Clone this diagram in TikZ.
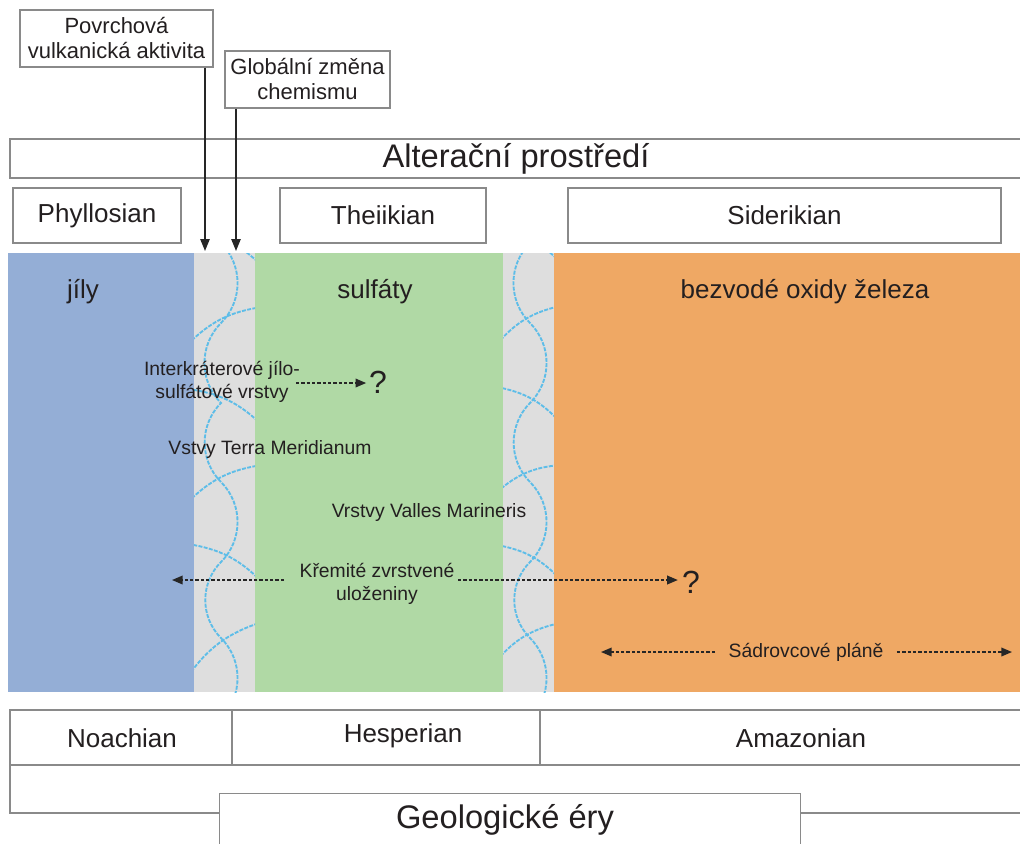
\documentclass[tikz,border=0pt]{standalone}
\usepackage{fontspec}
\setmainfont{Liberation Sans}
\usetikzlibrary{arrows.meta}
\definecolor{cblue}{HTML}{94AED6}
\definecolor{cgray}{HTML}{DEDEDE}
\definecolor{cgreen}{HTML}{B0D9A5}
\definecolor{corange}{HTML}{EFA864}
\definecolor{wblue}{HTML}{5DBDE8}
\definecolor{boxgray}{HTML}{8A8A8A}
\definecolor{txt}{HTML}{231F20}
\newcommand{\fsz}[2]{\fontsize{#1}{#2}\selectfont}
\tikzset{
  box/.style={draw=boxgray, line width=0.9pt, fill=white, inner sep=0pt, align=center, text=txt},
  lbl/.style={inner sep=0pt, text=txt, align=center},
  small/.style={font=\fsz{14.5}{17.25}},
  mid/.style={font=\fsz{19.5}{22}},
  big/.style={font=\fsz{24.5}{28}},
  varrow/.style={-{Triangle[length=9pt,width=7pt]}, line width=1.2pt, black!85},
  darrow/.style={-{Triangle[length=8pt,width=6.5pt]}, line width=1.1pt, dash pattern=on 2.5pt off 1.5pt, black!85},
  wave/.style={draw=wblue, line width=1.4pt, dash pattern=on 3pt off 1pt},
}
\begin{document}
\begin{tikzpicture}[x=0.75pt,y=-0.75pt]
\useasboundingbox (0,0) rectangle (1020,843);
% colour strip
\fill[cblue] (8,253) rectangle (194,692);
\fill[cgray] (194,253) rectangle (255,692);
\fill[cgreen] (255,253) rectangle (503,692);
\fill[cgray] (503,253) rectangle (554,692);
\fill[corange] (554,253) rectangle (1020,692);
% pattern in band 1
\begin{scope}
\clip (194,253) rectangle (255,692);
\draw[wave] (221,243) to[bend left=45] (221,323) to[bend right=45] (221,403) to[bend right=45] (221,482) to[bend left=45] (221,562) to[bend right=45] (221,638) to[bend left=45] (221,718);
\draw[wave] (188,229) to[bend left=18] (262,266);
\draw[wave] (188,344) to[bend left=18] (262,307);
\draw[wave] (188,389) to[bend left=18] (262,425);
\draw[wave] (188,502) to[bend left=18] (262,465);
\draw[wave] (188,544) to[bend left=18] (262,582);
\draw[wave] (188,676) to[bend left=18] (262,622);
\end{scope}
% pattern in band 2
\begin{scope}
\clip (503,253) rectangle (554,692);
\draw[wave] (530,243) to[bend right=45] (530,323) to[bend left=45] (530,403) to[bend right=45] (530,482) to[bend left=45] (530,562) to[bend right=45] (530,638) to[bend left=45] (530,718);
\draw[wave] (497,229) to[bend left=18] (560,262);
\draw[wave] (497,344) to[bend left=18] (560,306);
\draw[wave] (497,387) to[bend left=18] (560,422);
\draw[wave] (497,492) to[bend left=18] (560,465);
\draw[wave] (497,545) to[bend left=18] (560,579);
\draw[wave] (497,660) to[bend left=18] (560,623);
\end{scope}
% environment boxes
\node[box, big, minimum width=759pt, minimum height=29.25pt] (alt) at (516,158.5) {Alterační prostředí};
\node[box, mid, minimum width=126pt, minimum height=41.25pt] (phy) at (97,215.5) {Phyllosian};
\node[box, mid, minimum width=154.5pt, minimum height=41.25pt] (the) at (383,215.5) {Theiikian};
\node[box, mid, minimum width=324.75pt, minimum height=41.25pt] (sid) at (784.5,215.5) {Siderikian};
% top boxes
\node[box, font=\fsz{16.5}{18.75}, minimum width=144.75pt, minimum height=42.75pt] (pva) at (116.5,38.5) {Povrchová\\vulkanická aktivita};
\node[box, font=\fsz{16.5}{18.75}, minimum width=123.75pt, minimum height=42.75pt] (gzc) at (307.5,79.5) {Globální změna\\chemismu};
\coordinate (t1) at (205,251);
\coordinate (t2) at (236,251);
\draw[varrow] (t1 |- pva.south) -- (t1);
\draw[varrow] (t2 |- gzc.south) -- (t2);
% strip labels
\node[lbl, mid] (jily) at (83,292) {jíly};
\node[lbl, mid] (sulf) at (375,292) {sulfáty};
\node[lbl, mid] (bezv) at (805,292) {bezvodé oxidy železa};
\node[lbl, small] (ik) at (222,382) {Interkráterové jílo-\\sulfátové vrstvy};
\node[lbl, font=\fsz{24}{28}] (q1) at (378,382) {?};
\coordinate (a1) at (296,383);
\draw[darrow] (a1) -- ([xshift=-2pt]q1.west |- a1);
\node[lbl, small] (tm) at (270,449) {Vstvy Terra Meridianum};
\node[lbl, small] (vm) at (429,512) {Vrstvy Valles Marineris};
\node[lbl, small] (kz) at (377,584) {Křemité zvrstvené\\uloženiny};
\node[lbl, font=\fsz{24}{28}] (q2) at (691,582) {?};
\coordinate (a2) at (284,580);
\coordinate (a2e) at (172,580);
\coordinate (a3) at (458,580);
\draw[darrow] (a2) -- (a2e);
\draw[darrow] (a3) -- ([xshift=-3pt]q2.west |- a3);
\node[lbl, small] (sp) at (806,652) {Sádrovcové pláně};
\coordinate (s1) at (601,652);
\coordinate (s2) at (1012,652);
\draw[darrow] ([xshift=-10pt]sp.west) -- (s1);
\draw[darrow] ([xshift=10pt]sp.east) -- (s2);
% era row
\node[box, minimum width=166.5pt, minimum height=41.25pt] (noc) at (121,737.5) {};
\node[box, minimum width=231pt, minimum height=41.25pt] (hec) at (386,737.5) {};
\node[box, minimum width=361.5pt, minimum height=41.25pt] (amc) at (781,737.5) {};
\node[lbl, mid] (noa) at (122,738) {Noachian};
\node[lbl, mid] (hes) at (403,736) {Hesperian};
\node[lbl, mid] (ama) at (801,738) {Amazonian};
\draw[draw=boxgray, line width=0.9pt] (10,765) -- (10,813) -- (1022,813);
\node[box, big, minimum width=435.75pt, minimum height=45pt, anchor=north west] (geo) at (219,793) {};
\node[lbl, big] (geot) at (505,820) {Geologické éry};
\end{tikzpicture}
\end{document}
